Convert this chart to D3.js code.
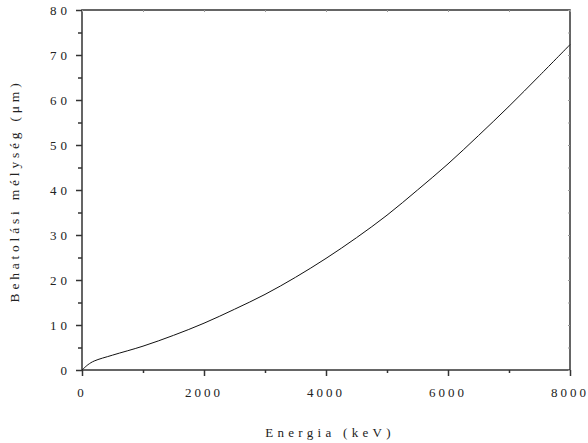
<!DOCTYPE html>
<html>
<head>
<meta charset="utf-8">
<script src="https://cdn.jsdelivr.net/npm/d3@7"></script>
<style>
  body { margin: 0; background: #fff; }
  svg text { font-family: "Liberation Serif", "DejaVu Serif", serif; fill: #222; }
</style>
</head>
<body>
<svg id="chart" width="588" height="443"></svg>
<script>
// energy (keV) and penetration depth (um)
var energy = [0, 100, 200, 500, 1000, 1500, 2000, 2500, 3000, 3500, 4000, 4500, 5000, 5500, 6000, 6500, 7000, 7500, 8000];
var depth  = [0, 1.2, 2.0, 3.3, 5.3, 7.7, 10.4, 13.5, 16.8, 20.6, 24.8, 29.4, 34.4, 40.0, 45.8, 52.1, 58.6, 65.4, 72.3];
var xTicks = [0, 2000, 4000, 6000, 8000];
var xMinor = [1000, 3000, 5000, 7000];
var yTicks = [0, 10, 20, 30, 40, 50, 60, 70, 80];
var yMinor = [5, 15, 25, 35, 45, 55, 65, 75];

var plotL = 82, plotR = 570, plotT = 10, plotB = 370;

var svg = d3.select("#chart");
var x = d3.scaleLinear().domain([0, 8000]).range([plotL, plotR]);
var y = d3.scaleLinear().domain([0, 80]).range([plotB, plotT]);

function styleTicks(color, w) {
  return function (g) {
    g.select(".domain").remove();
    g.selectAll("line").attr("stroke", color).attr("stroke-width", w);
  };
}

// frame
svg.append("rect")
  .attr("x", plotL).attr("y", plotT)
  .attr("width", plotR - plotL).attr("height", plotB - plotT)
  .attr("fill", "none").attr("stroke", "#333").attr("stroke-width", 1.5);

// bottom axis, major + minor outward
svg.append("g").attr("transform", "translate(0," + plotB + ")")
  .call(d3.axisBottom(x).tickValues(xTicks).tickSize(6).tickFormat(""))
  .call(styleTicks("#333", 1.5));
svg.append("g").attr("transform", "translate(0," + plotB + ")")
  .call(d3.axisBottom(x).tickValues(xMinor).tickSize(3).tickFormat(""))
  .call(styleTicks("#333", 1.5));

// left axis, major + minor outward
svg.append("g").attr("transform", "translate(" + plotL + ",0)")
  .call(d3.axisLeft(y).tickValues(yTicks).tickSize(6).tickFormat(""))
  .call(styleTicks("#333", 1.5));
svg.append("g").attr("transform", "translate(" + plotL + ",0)")
  .call(d3.axisLeft(y).tickValues(yMinor).tickSize(4).tickFormat(""))
  .call(styleTicks("#333", 1.5));

// top and right small inward ticks
svg.append("g").attr("transform", "translate(0," + plotT + ")")
  .call(d3.axisBottom(x).tickValues(xTicks.concat(xMinor)).tickSize(2).tickFormat(""))
  .call(styleTicks("#999", 1));
svg.append("g").attr("transform", "translate(" + plotR + ",0)")
  .call(d3.axisLeft(y).tickValues(yTicks.concat(yMinor)).tickSize(2).tickFormat(""))
  .call(styleTicks("#999", 1));

// tick labels
svg.append("g").selectAll("text").data(xTicks).join("text")
  .attr("x", function (d) { return x(d); })
  .attr("y", 397)
  .attr("text-anchor", "middle")
  .attr("font-size", 13)
  .attr("letter-spacing", 3)
  .text(function (d) { return d; });

svg.append("g").selectAll("text").data(yTicks).join("text")
  .attr("x", 71)
  .attr("y", function (d) { return y(d) + 4.5; })
  .attr("text-anchor", "end")
  .attr("font-size", 13)
  .attr("letter-spacing", 4)
  .text(function (d) { return d; });

// axis titles
svg.append("text")
  .attr("x", 330).attr("y", 437)
  .attr("text-anchor", "middle")
  .attr("font-size", 13)
  .attr("letter-spacing", 4.3)
  .text("Energia (keV)");

svg.append("text")
  .attr("transform", "translate(19,191) rotate(-90)")
  .attr("text-anchor", "middle")
  .attr("font-size", 13.5)
  .attr("letter-spacing", 3.8)
  .text("Behatolási mélység (μm)");

// curve
var line = d3.line()
  .x(function (d, i) { return x(energy[i]); })
  .y(function (d) { return y(d); })
  .curve(d3.curveCatmullRom);

svg.append("path")
  .datum(depth)
  .attr("d", line)
  .attr("fill", "none")
  .attr("stroke", "#111")
  .attr("stroke-width", 1);
</script>
</body>
</html>
